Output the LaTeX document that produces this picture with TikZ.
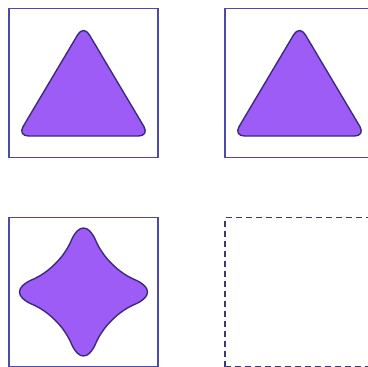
\documentclass[tikz,border=0pt]{standalone}
\usepackage{tikz}
\usetikzlibrary{positioning,calc}

\definecolor{boxline}{HTML}{4B4AA8}
\definecolor{shapefill}{HTML}{9D5CF6}
\definecolor{shapeline}{HTML}{3B2B80}
\definecolor{dashline}{HTML}{3A3A72}

\begin{document}
\begin{tikzpicture}[x=1pt, y=-1pt,
  frame/.style={draw=boxline, line width=1.6pt, rectangle, minimum size=149pt, inner sep=0pt, outer sep=0pt},
  blank/.style={frame, draw=dashline, dashed, dash pattern=on 6pt off 4pt},
  glyph/.style={fill=shapefill, draw=shapeline, line width=1.4pt, rounded corners=11pt}]
  \useasboundingbox (0,0) rectangle (368,367);
  \clip (0,0) rectangle (368,367);

  \node[frame] (a) at (83.5,83) {};
  \node[frame, right=67pt of a] (b) {};
  \node[frame, below=60pt of a] (c) {};
  \node[blank, right=67pt of c] (d) {};

  % triangles in the top row
  \foreach \n in {a,b}
    \draw[glyph] ($(\n.center)+(0,-58)$) -- ++(66,111) -- ++(-132,0) -- cycle;

  % four-pointed star
  \begin{scope}[shift={(c.center)}]
    \draw[fill=shapefill, draw=shapeline, line width=1.4pt]
      (-12,-52) .. controls (-5,-68) and (5,-68) .. (12,-52)
      .. controls (19,-35) and (35,-19) .. (52,-12)
      .. controls (68,-5) and (68,5) .. (52,12)
      .. controls (35,19) and (19,35) .. (12,52)
      .. controls (5,68) and (-5,68) .. (-12,52)
      .. controls (-19,35) and (-35,19) .. (-52,12)
      .. controls (-68,5) and (-68,-5) .. (-52,-12)
      .. controls (-35,-19) and (-19,-35) .. cycle;
  \end{scope}
\end{tikzpicture}
\end{document}
